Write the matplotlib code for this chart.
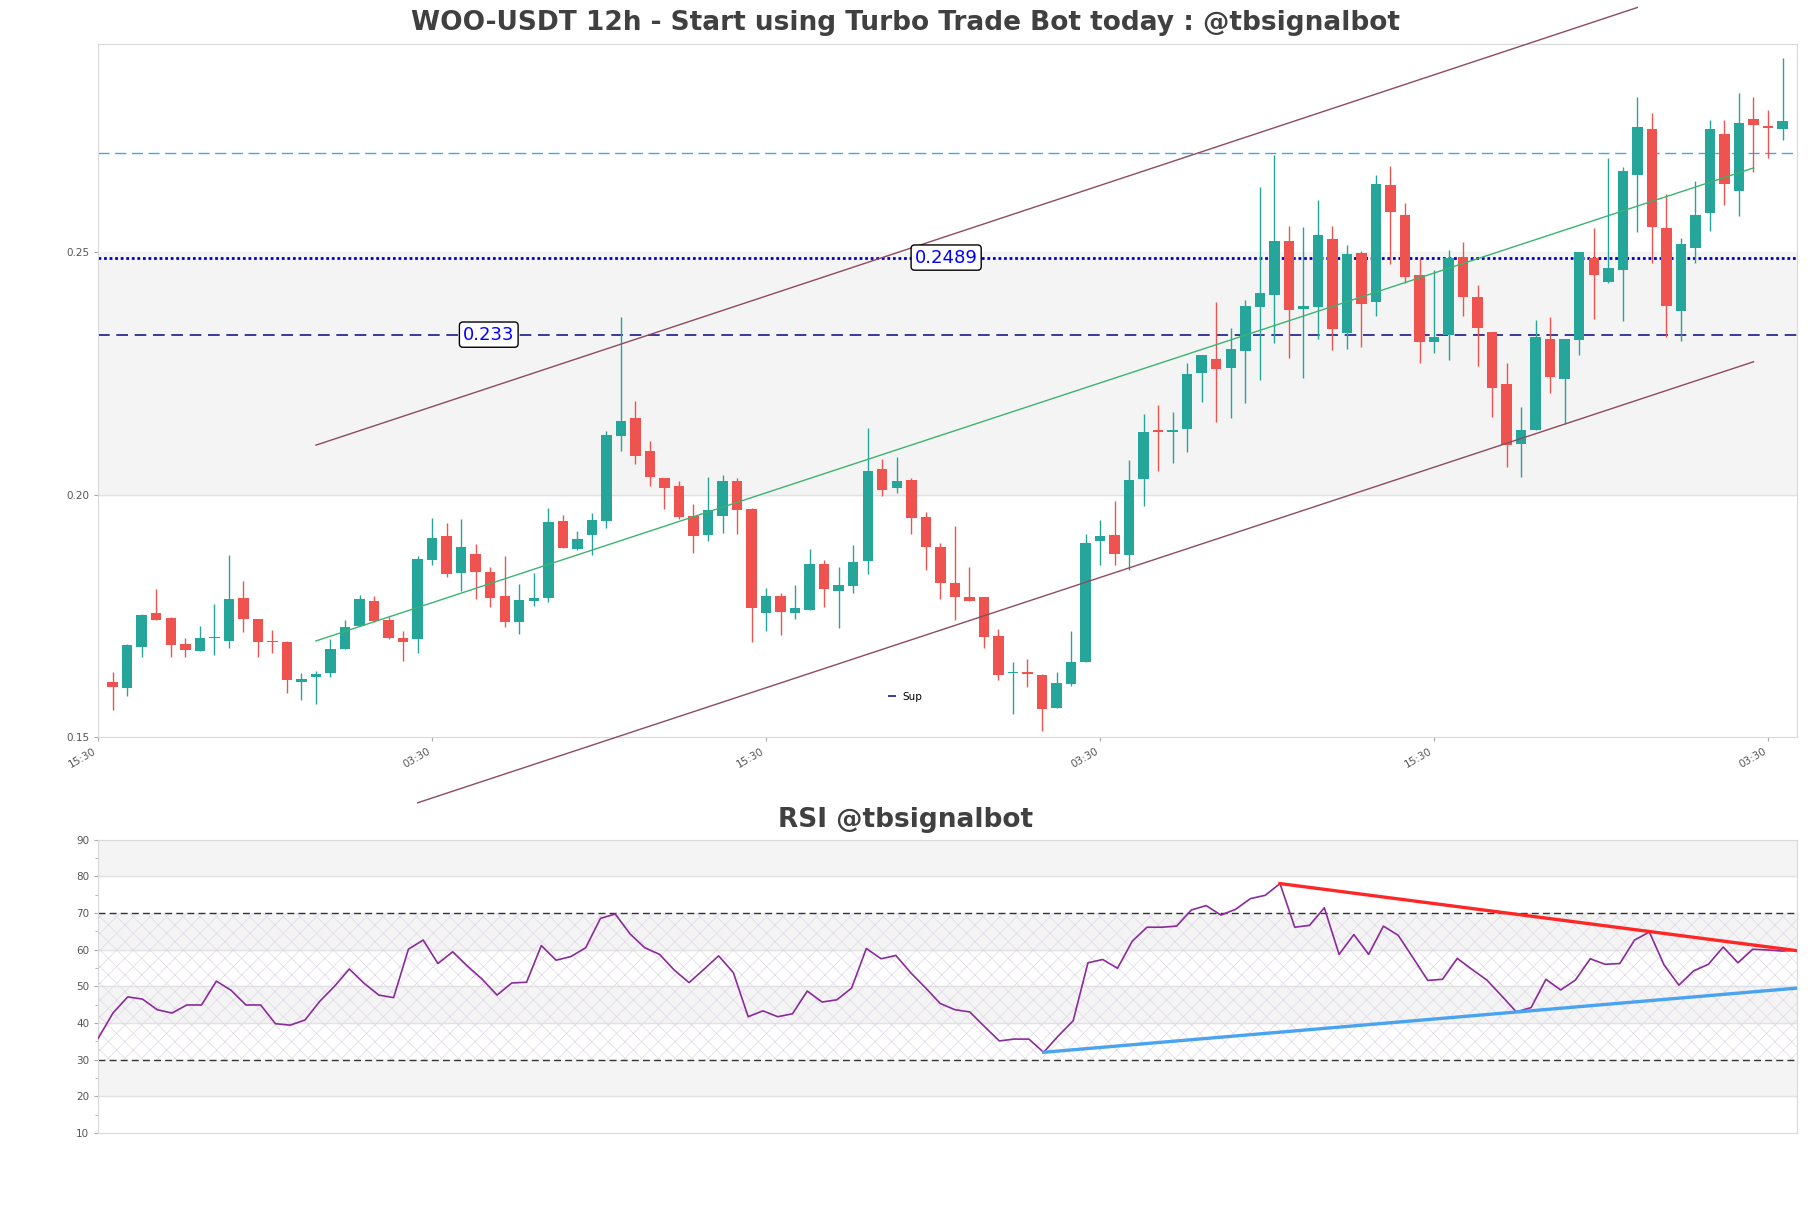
import numpy as np
import matplotlib.pyplot as plt

plt.rcParams['hatch.linewidth'] = 0.5

# 12h candles, values
opens = [0.1613, 0.1600, 0.1686, 0.1756, 0.1745, 0.1692, 0.1678, 0.1703, 0.1697, 0.1787,
         0.1743, 0.1698, 0.1696, 0.1614, 0.1623, 0.1631, 0.1681, 0.1729, 0.1780, 0.1742,
         0.1704, 0.1701, 0.1865, 0.1914, 0.1839, 0.1877, 0.1840, 0.1791, 0.1738, 0.1781,
         0.1787, 0.1945, 0.1887, 0.1916, 0.1946, 0.2121, 0.2159, 0.2089, 0.2034, 0.2017,
         0.1955, 0.1916, 0.1956, 0.2027, 0.1971, 0.1756, 0.1791, 0.1756, 0.1762, 0.1856,
         0.1802, 0.1812, 0.1863, 0.2052, 0.2014, 0.2030, 0.1953, 0.1892, 0.1817, 0.1788,
         0.1788, 0.1708, 0.1631, 0.1633, 0.1628, 0.1559, 0.1610, 0.1654, 0.1904, 0.1917,
         0.1875, 0.2033, 0.2134, 0.2130, 0.2136, 0.2250, 0.2279, 0.2262, 0.2297, 0.2387,
         0.2412, 0.2523, 0.2382, 0.2387, 0.2528, 0.2334, 0.2498, 0.2398, 0.2638, 0.2576,
         0.2453, 0.2314, 0.2330, 0.2490, 0.2408, 0.2336, 0.2228, 0.2105, 0.2133, 0.2322,
         0.2239, 0.2319, 0.2489, 0.2438, 0.2463, 0.2659, 0.2755, 0.2551, 0.2379, 0.2509,
         0.2581, 0.2745, 0.2626, 0.2775, 0.2760, 0.2754]
highs = [0.1634, 0.1691, 0.1754, 0.1805, 0.1748, 0.1704, 0.1729, 0.1774, 0.1875, 0.1822,
         0.1744, 0.1721, 0.1698, 0.1631, 0.1635, 0.1702, 0.1741, 0.1793, 0.1790, 0.1748,
         0.1719, 0.1873, 0.1952, 0.1941, 0.1949, 0.1897, 0.1850, 0.1873, 0.1815, 0.1838,
         0.1972, 0.1958, 0.1925, 0.1961, 0.2131, 0.2366, 0.2193, 0.2110, 0.2035, 0.2029,
         0.1980, 0.2036, 0.2041, 0.2035, 0.1972, 0.1807, 0.1796, 0.1813, 0.1887, 0.1865,
         0.1851, 0.1896, 0.2138, 0.2073, 0.2078, 0.2035, 0.1964, 0.1901, 0.1935, 0.1850,
         0.1789, 0.1722, 0.1654, 0.1660, 0.1629, 0.1634, 0.1719, 0.1918, 0.1948, 0.1987,
         0.2072, 0.2166, 0.2185, 0.2170, 0.2271, 0.2289, 0.2397, 0.2344, 0.2401, 0.2634,
         0.2700, 0.2555, 0.2553, 0.2607, 0.2555, 0.2514, 0.2502, 0.2660, 0.2677, 0.2602,
         0.2488, 0.2463, 0.2505, 0.2522, 0.2432, 0.2336, 0.2272, 0.2180, 0.2360, 0.2366,
         0.2320, 0.2500, 0.2551, 0.2694, 0.2675, 0.2820, 0.2788, 0.2621, 0.2529, 0.2648,
         0.2772, 0.2772, 0.2828, 0.2821, 0.2793, 0.2901]
lows = [0.1556, 0.1585, 0.1664, 0.1742, 0.1664, 0.1664, 0.1677, 0.1669, 0.1684, 0.1716,
        0.1664, 0.1674, 0.1591, 0.1577, 0.1567, 0.1623, 0.1681, 0.1729, 0.1737, 0.1701,
        0.1657, 0.1673, 0.1855, 0.1829, 0.1801, 0.1785, 0.1769, 0.1727, 0.1713, 0.1771,
        0.1779, 0.1889, 0.1885, 0.1875, 0.1931, 0.2090, 0.2063, 0.2018, 0.1971, 0.1949,
        0.1880, 0.1905, 0.1921, 0.1919, 0.1695, 0.1719, 0.1711, 0.1744, 0.1762, 0.1769,
        0.1725, 0.1797, 0.1836, 0.1997, 0.2004, 0.1919, 0.1844, 0.1784, 0.1742, 0.1780,
        0.1684, 0.1617, 0.1548, 0.1602, 0.1513, 0.1559, 0.1605, 0.1654, 0.1855, 0.1855,
        0.1845, 0.1976, 0.2049, 0.2066, 0.2087, 0.2190, 0.2149, 0.2159, 0.2188, 0.2237,
        0.2312, 0.2281, 0.2241, 0.2322, 0.2299, 0.2301, 0.2304, 0.2369, 0.2476, 0.2437,
        0.2271, 0.2292, 0.2278, 0.2369, 0.2265, 0.2160, 0.2057, 0.2037, 0.2133, 0.2210,
        0.2145, 0.2288, 0.2362, 0.2437, 0.2358, 0.2542, 0.2478, 0.2325, 0.2316, 0.2478,
        0.2543, 0.2597, 0.2575, 0.2665, 0.2695, 0.2732]
closes = [0.1602, 0.1690, 0.1752, 0.1742, 0.1690, 0.1679, 0.1704, 0.1706, 0.1785, 0.1744,
          0.1695, 0.1695, 0.1618, 0.1620, 0.1630, 0.1681, 0.1727, 0.1785, 0.1739, 0.1703,
          0.1695, 0.1867, 0.1910, 0.1837, 0.1892, 0.1840, 0.1787, 0.1738, 0.1782, 0.1786,
          0.1943, 0.1890, 0.1908, 0.1947, 0.2122, 0.2151, 0.2080, 0.2037, 0.2014, 0.1953,
          0.1915, 0.1968, 0.2028, 0.1969, 0.1766, 0.1791, 0.1758, 0.1765, 0.1856, 0.1806,
          0.1813, 0.1861, 0.2048, 0.2009, 0.2028, 0.1951, 0.1892, 0.1818, 0.1789, 0.1781,
          0.1707, 0.1628, 0.1634, 0.1629, 0.1557, 0.1611, 0.1654, 0.1900, 0.1914, 0.1878,
          0.2030, 0.2129, 0.2130, 0.2134, 0.2249, 0.2289, 0.2260, 0.2300, 0.2389, 0.2415,
          0.2523, 0.2380, 0.2389, 0.2535, 0.2341, 0.2497, 0.2394, 0.2641, 0.2583, 0.2448,
          0.2314, 0.2326, 0.2489, 0.2408, 0.2344, 0.2220, 0.2103, 0.2134, 0.2325, 0.2243,
          0.2320, 0.2500, 0.2454, 0.2467, 0.2667, 0.2758, 0.2552, 0.2389, 0.2516, 0.2576,
          0.2755, 0.2641, 0.2766, 0.2762, 0.2756, 0.2770]

rsi = [35.8, 42.7, 47.1, 46.5, 43.6, 42.7, 44.9, 44.9, 51.4, 48.9,
       44.9, 44.9, 39.8, 39.4, 40.8, 45.9, 50.0, 54.7, 50.8, 47.6,
       46.9, 60.1, 62.6, 56.2, 59.4, 55.5, 51.9, 47.6, 50.9, 51.1,
       61.1, 57.1, 58.1, 60.5, 68.5, 69.7, 64.3, 60.5, 58.7, 54.4,
       51.0, 54.6, 58.3, 53.7, 41.7, 43.3, 41.7, 42.5, 48.7, 45.7,
       46.3, 49.5, 60.3, 57.5, 58.4, 53.7, 49.6, 45.3, 43.6, 43.0,
       39.0, 35.1, 35.6, 35.6, 32.0, 36.5, 40.6, 56.4, 57.3, 54.9,
       62.3, 66.1, 66.1, 66.4, 70.8, 72.0, 69.4, 71.0, 73.9, 74.8,
       78.0, 66.1, 66.6, 71.4, 58.7, 64.1, 58.7, 66.4, 63.9, 57.8,
       51.6, 51.9, 57.6, 54.6, 51.7, 47.4, 43.0, 44.2, 51.9, 49.0,
       51.7, 57.5, 56.0, 56.2, 62.6, 64.8, 55.8, 50.3, 54.2, 56.0,
       60.7, 56.4, 60.1, 59.9, 59.6, 59.9]

tick_pos = [-1, 22, 45, 68, 91, 114]
tick_labels = ['15:30', '03:30', '15:30', '03:30', '15:30', '03:30']

sup_level = 0.233
res_level = 0.2489
top_level = 0.2705

# channel lines (candle index, price)
upper_x, upper_y = [14, 105], [0.2102, 0.3005]
mid_x, mid_y = [14, 113], [0.1698, 0.2674]
lower_x, lower_y = [21, 113], [0.1364, 0.2274]

# rsi trend lines
rsi_down_x, rsi_down_y = [80, 115], [78.0, 59.7]
rsi_up_x, rsi_up_y = [64, 115], [32.0, 49.5]

up_col = '#26a69a'
down_col = '#ef5350'
band = '#f4f4f4'
spine = '#d9d9d9'

fig = plt.figure(figsize=(18.11, 12.08), dpi=100)
ax = fig.add_axes([0.0542, 0.390, 0.9381, 0.5737])
ax2 = fig.add_axes([0.0542, 0.0621, 0.9381, 0.2429])

# ---- price panel
o = np.array(opens); h = np.array(highs); l = np.array(lows); c = np.array(closes)
x = np.arange(len(o))
cols = np.where(c >= o, up_col, down_col)
ax.axhspan(0.20, 0.25, color=band, zorder=0)
ax.axhline(0.20, color='#e2e2e2', lw=1, zorder=0.5)
ax.vlines(x, l, h, colors=cols, lw=1.0, zorder=2)
body = np.maximum(np.abs(c - o), 0.0003)
ax.bar(x, body, bottom=np.minimum(o, c), width=0.72, color=cols, zorder=3)

ax.axhline(top_level, color='#4aa8d8', lw=1, ls=(0, (8, 4)), zorder=1)
ax.axhline(res_level, color='#0000cc', lw=2, ls=(0, (1, 1)), zorder=1)
ax.axhline(sup_level, color='#1a1a8c', lw=1.2, ls=(0, (7, 4)), zorder=1, label='Sup')

ax.plot(upper_x, upper_y, color='#8e4b5c', lw=1, clip_on=False, zorder=4)
ax.plot(lower_x, lower_y, color='#8e4b5c', lw=1, clip_on=False, zorder=4)
ax.plot(mid_x, mid_y, color='#3cb371', lw=1, zorder=4)

box = dict(boxstyle='round,pad=0.2', fc='white', ec='black', lw=1)
ax.text(25.9, sup_level, '0.233', color='blue', fontsize=13, ha='center', va='center', bbox=box, zorder=6)
ax.text(57.4, res_level, '0.2489', color='blue', fontsize=13, ha='center', va='center', bbox=box, zorder=6)

ax.set_xlim(-1, 116)
ax.set_ylim(0.15, 0.293)
ax.set_yticks([0.15, 0.20, 0.25])
ax.set_yticklabels(['0.15', '0.20', '0.25'])
ax.set_xticks(tick_pos)
ax.set_xticklabels(tick_labels, rotation=30, ha='right')
ax.tick_params(labelsize=7.5, colors='#555555', length=3, color='#aaaaaa')
for s in ax.spines.values():
    s.set_color(spine)
ax.legend(loc='center', bbox_to_anchor=(0.475, 0.058), frameon=False, fontsize=7.5,
          handlelength=0.8, handletextpad=0.6)

# ---- rsi panel
xr = np.arange(len(rsi))
for lo in (20, 40, 60, 80):
    ax2.axhspan(lo, lo + 10, color=band, zorder=0)
for g in (20, 40, 50, 60, 80):
    ax2.axhline(g, color='#e2e2e2', lw=1, zorder=0.5)
ax2.axhspan(30, 70, facecolor='none', edgecolor='#e0d8e6', hatch='xx', lw=0, zorder=1)
ax2.axhline(70, color='#333333', lw=1, ls=(0, (5, 3)), zorder=2)
ax2.axhline(30, color='#333333', lw=1, ls=(0, (5, 3)), zorder=2)
ax2.plot(xr, rsi, color='#8b2a9b', lw=1.2, zorder=3)
ax2.plot(rsi_down_x, rsi_down_y, color='#ff2626', lw=2.4, zorder=4)
ax2.plot(rsi_up_x, rsi_up_y, color='#4aa3f0', lw=2.4, zorder=4)
ax2.set_xlim(0, 115)
ax2.set_ylim(10, 90)
ax2.set_yticks(range(10, 91, 10))
ax2.set_yticks(range(15, 90, 10), minor=True)
ax2.set_xticks([])
ax2.tick_params(labelsize=7.5, colors='#555555', length=3, color='#aaaaaa')
ax2.tick_params(which='minor', length=2, color='#aaaaaa')
for s in ax2.spines.values():
    s.set_color(spine)

fig.text(0.5, 0.981, 'WOO-USDT 12h - Start using Turbo Trade Bot today : @tbsignalbot',
         ha='center', va='center', fontsize=19, fontweight='bold', color='#404040')
fig.text(0.5, 0.321, 'RSI @tbsignalbot', ha='center', va='center',
         fontsize=19, fontweight='bold', color='#404040')

plt.savefig('out.png', dpi=100)
